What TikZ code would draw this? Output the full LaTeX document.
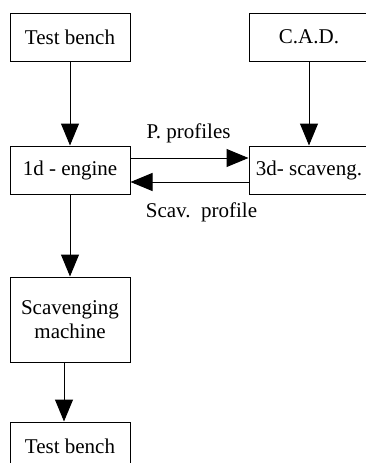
\documentclass[tikz,border=0pt]{standalone}
\usepackage{fontspec}
\setmainfont{Liberation Serif}
\usetikzlibrary{arrows.meta,positioning}

\begin{document}
\begin{tikzpicture}[x=1pt,y=-1pt,
    box/.style={draw,line width=1pt,minimum width=120pt,minimum height=48pt,inner sep=2pt,align=center},
    flow/.style={line width=1pt,arrows=-{Triangle[length=22pt,width=18pt]}},
    every node/.style={font=\fontsize{21}{24}\selectfont}]
  \useasboundingbox (0,0) rectangle (366,463);
  \clip (0,0) rectangle (366,463);

  \node[box] (bench) at (70,37) {Test bench};
  \node[box] (cad) at (309,37) {C.A.D.};
  \node[box] (engine) at (70,170) {1d - engine};
  \node[box] (scav3d) at (309,170) {3d- scaveng.};
  \node[box,minimum height=85pt] (machine) at (70,319.5) {Scavenging\\machine};
  \node[box] (benchb) at (70,446) {Test bench};

  \draw[flow] (bench) -- (engine);
  \draw[flow] (cad) -- (scav3d);
  \draw[flow] ([yshift=12pt]engine.east) -- node[yshift=25pt,xshift=-1pt] (pprof) {P. profiles} ([yshift=12pt]scav3d.west);
  \draw[flow] ([yshift=-12pt]scav3d.west) -- node[yshift=-30pt,xshift=12pt] (sprof) {Scav.\ \ profile} ([yshift=-12pt]engine.east);
  \draw[flow] (engine) -- (machine);
  \draw[flow] ([xshift=-6pt]machine.south) -- ([xshift=-6pt]benchb.north);
\end{tikzpicture}
\end{document}
